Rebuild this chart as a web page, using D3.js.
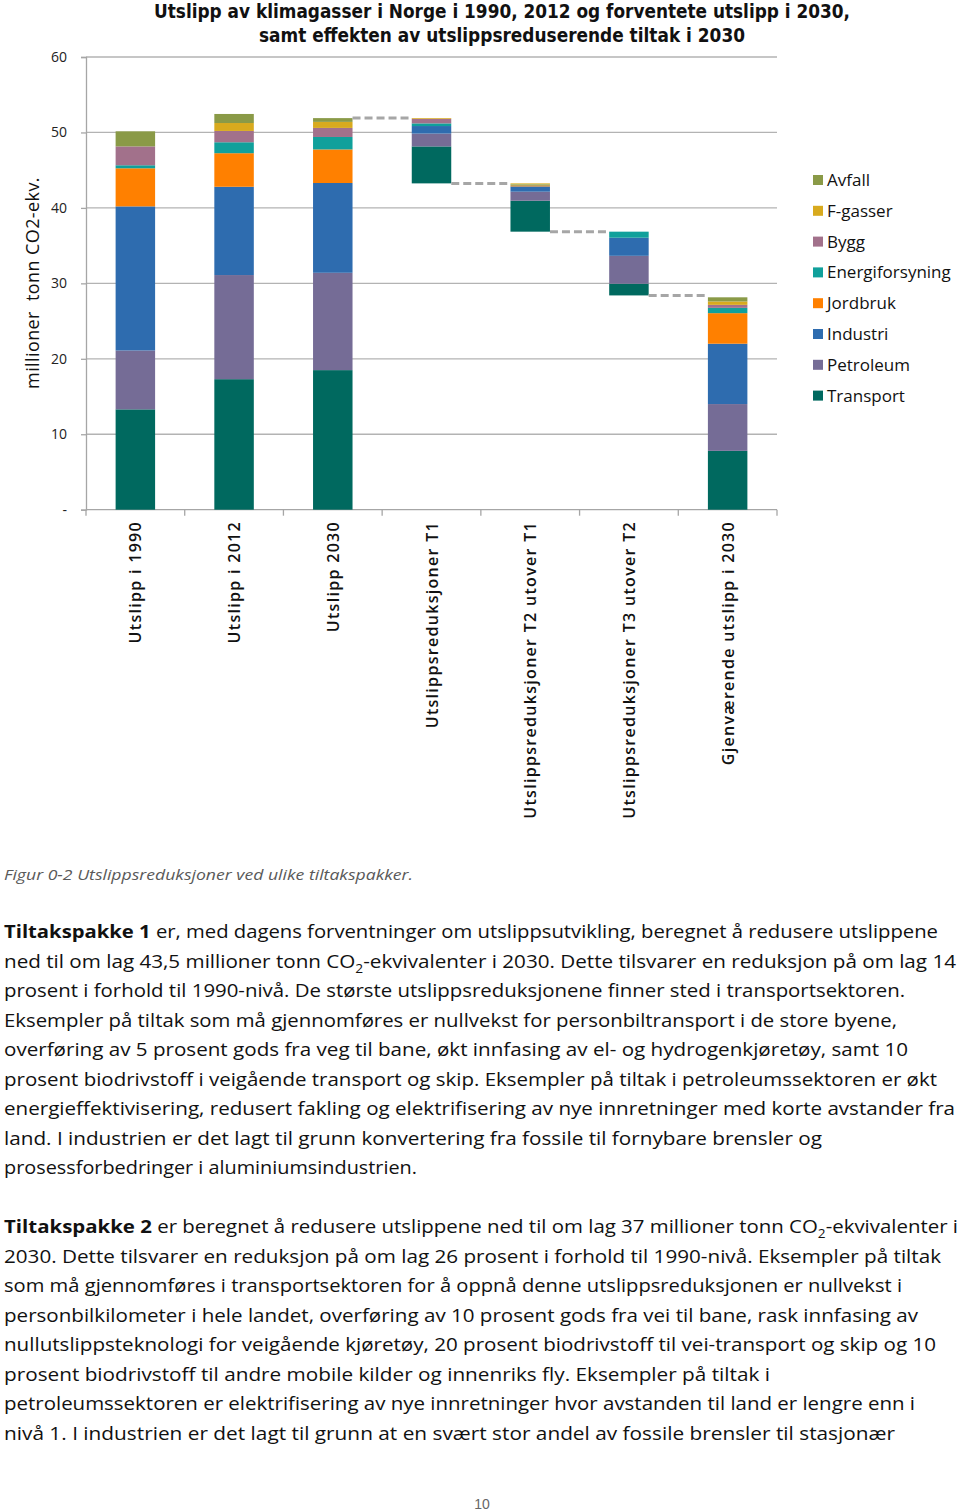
<!DOCTYPE html>
<html>
<head>
<meta charset="utf-8">
<script src="https://cdn.jsdelivr.net/npm/d3@7"></script>
<style>
  html, body { margin: 0; padding: 0; background: #fff; }
  svg { display: block; }
</style>
</head>
<body>
<svg id="chart" width="960" height="1511"></svg>
<script>
// ---------------- DATA ----------------
const categories = [
  "Utslipp i 1990", "Utslipp i 2012", "Utslipp 2030",
  "Utslippsreduksjoner T1", "Utslippsreduksjoner T2 utover T1",
  "Utslippsreduksjoner T3 utover T2", "Gjenværende utslipp i 2030"
];
const isReduction = [false, false, false, true, true, true, false];
const sectors = ["Transport", "Petroleum", "Industri", "Jordbruk", "Energiforsyning", "Bygg", "F-gasser", "Avfall"];
const transport = [13.3, 17.3, 18.5, 4.9, 4.1, 1.55, 7.8];
const petroleum = [7.8, 13.8, 12.9, 1.7, 1.2, 3.7, 6.2];
const industri  = [19.1, 11.7, 11.9, 1.0, 0.7, 2.4, 8.0];
const jordbruk  = [5.05, 4.45, 4.45, 0, 0.15, 0, 4.05];
const energi    = [0.4, 1.45, 1.65, 0.35, 0.1, 0.8, 0.7];
const bygg      = [2.5, 1.5, 1.2, 0.6, 0, 0, 0.4];
const fgasser   = [0, 1.05, 0.8, 0.1, 0.15, 0, 0.45];
const avfall    = [2.0, 1.2, 0.5, 0, 0, 0, 0.55];
const yTicks = [0, 10, 20, 30, 40, 50, 60];
const colors = ["#00695F", "#756C96", "#2E6CAF", "#FF8000", "#10A09B", "#A2718B", "#D8AA1E", "#8A9A47"];

const seriesValues = [transport, petroleum, industri, jordbruk, energi, bygg, fgasser, avfall];

// ---------------- LAYOUT ----------------
const svg = d3.select("#chart");
const x = d3.scaleBand().domain(categories).range([86, 777]).paddingInner(0.6).paddingOuter(0.3);
const y = d3.scaleLinear().domain([0, 60]).range([509.7, 57]);

// waterfall bases
const totals = categories.map((c, i) => d3.sum(seriesValues, s => s[i]));
const bases = [];
let level = 0;
categories.forEach((c, i) => {
  if (isReduction[i]) { bases.push(level - totals[i]); level = level - totals[i]; }
  else { bases.push(0); level = totals[i]; }
});

const rows = categories.map((c, i) => {
  const r = { cat: c };
  sectors.forEach((s, k) => r[s] = seriesValues[k][i]);
  return r;
});
const stack = d3.stack().keys(sectors).offset((series, order) => {
  d3.stackOffsetNone(series, order);
  series.forEach(s => s.forEach((d, j) => { d[0] += bases[j]; d[1] += bases[j]; }));
});
const stacked = stack(rows);

// gridlines
svg.append("g").selectAll("line").data(yTicks.filter(t => t > 0)).join("line")
  .attr("x1", 86).attr("x2", 777)
  .attr("y1", d => y(d)).attr("y2", d => y(d))
  .attr("stroke", "#B3B3B3").attr("stroke-width", 1.3);

// y axis
const yAxis = svg.append("g").attr("transform", "translate(86,0)")
  .call(d3.axisLeft(y).tickValues(yTicks).tickSize(5).tickPadding(14)
        .tickFormat(d => d === 0 ? "-" : d));
yAxis.select(".domain").attr("stroke", "#A6A6A6").attr("stroke-width", 1.3);
yAxis.selectAll(".tick line").attr("stroke", "#A6A6A6").attr("stroke-width", 1.3);
yAxis.selectAll(".tick text").attr("font-family", "'Open Sans', sans-serif")
  .attr("font-size", 14).attr("fill", "#222");

// x axis line + boundary ticks
svg.append("line").attr("x1", 86).attr("x2", 777).attr("y1", y(0)).attr("y2", y(0))
  .attr("stroke", "#A6A6A6").attr("stroke-width", 1.3);
svg.append("g").selectAll("line").data(d3.range(categories.length + 1)).join("line")
  .attr("x1", i => 86 + i * x.step()).attr("x2", i => 86 + i * x.step())
  .attr("y1", y(0)).attr("y2", y(0) + 6)
  .attr("stroke", "#A6A6A6").attr("stroke-width", 1.3);

// bars
svg.append("g").selectAll("g").data(stacked).join("g")
  .attr("fill", (d, k) => colors[k])
  .selectAll("rect").data(d => d).join("rect")
  .attr("x", d => x(d.data.cat))
  .attr("width", x.bandwidth())
  .attr("y", d => y(d[1]))
  .attr("height", d => Math.max(0, y(d[0]) - y(d[1])));

// connectors
const connectors = [];
for (let i = 2; i < categories.length - 1; i++) {
  const lvl = isReduction[i] ? bases[i] : totals[i];
  connectors.push({ from: categories[i], to: categories[i + 1], v: lvl });
}
svg.append("g").selectAll("line").data(connectors).join("line")
  .attr("x1", d => x(d.from) + x.bandwidth())
  .attr("x2", d => x(d.to))
  .attr("y1", d => y(d.v)).attr("y2", d => y(d.v))
  .attr("stroke", "#A6A6A6").attr("stroke-width", 3)
  .attr("stroke-dasharray", "8,4");

// x labels
svg.append("g").selectAll("text").data(categories).join("text")
  .attr("transform", d => `translate(${x(d) + x.bandwidth() / 2 + 6},521) rotate(-90)`)
  .attr("text-anchor", "end")
  .attr("font-family", "'Open Sans', sans-serif")
  .attr("font-weight", 600).attr("font-size", 16)
  .attr("letter-spacing", 1.3)
  .attr("fill", "#111")
  .text(d => d);

// y title
svg.append("text")
  .attr("transform", "translate(39,283) rotate(-90)")
  .attr("text-anchor", "middle")
  .attr("font-family", "'Open Sans', sans-serif")
  .attr("font-size", 18).attr("fill", "#111")
  .attr("letter-spacing", 0.4)
  .attr("xml:space", "preserve")
  .style("white-space", "pre")
  .text("millioner  tonn CO2-ekv.");

// title
const titleLines = [
  { t: "Utslipp av klimagasser i Norge i 1990, 2012 og forventete utslipp i 2030,", y: 18, w: 696 },
  { t: "samt effekten av utslippsreduserende tiltak i 2030", y: 42, w: 486 }
];
svg.append("g").selectAll("text").data(titleLines).join("text")
  .attr("x", 502).attr("y", d => d.y)
  .attr("text-anchor", "middle")
  .attr("font-family", "'DejaVu Sans', sans-serif")
  .attr("font-weight", "bold").attr("font-size", 19)
  .attr("textLength", d => d.w).attr("lengthAdjust", "spacingAndGlyphs")
  .attr("fill", "#111")
  .text(d => d.t);

// legend
const legendOrder = sectors.map((s, k) => ({ s, c: colors[k] })).reverse();
const lg = svg.append("g").selectAll("g").data(legendOrder).join("g")
  .attr("transform", (d, i) => `translate(813,${180 + i * 30.8})`);
lg.append("rect").attr("x", 0).attr("y", -5).attr("width", 10).attr("height", 10).attr("fill", d => d.c);
lg.append("text").attr("x", 14).attr("y", 6)
  .attr("font-family", "'Open Sans', sans-serif").attr("font-size", 17).attr("fill", "#111")
  .text(d => d.s);

// caption
svg.append("text").attr("x", 4).attr("y", 880)
  .attr("font-family", "'Open Sans', sans-serif").attr("font-style", "italic")
  .attr("font-size", 15).attr("fill", "#595959")
  .attr("textLength", 409).attr("lengthAdjust", "spacingAndGlyphs")
  .text("Figur 0-2 Utslippsreduksjoner ved ulike tiltakspakker.");

// body text
const para1 = [
  { parts: [["b", "Tiltakspakke 1"], ["n", " er, med dagens forventninger om utslippsutvikling, beregnet å redusere utslippene"]], w: 934 },
  { parts: [["n", "ned til om lag 43,5 millioner tonn CO"], ["s", "2"], ["n", "-ekvivalenter i 2030. Dette tilsvarer en reduksjon på om lag 14"]], w: 952 },
  { parts: [["n", "prosent i forhold til 1990-nivå. De største utslippsreduksjonene finner sted i transportsektoren."]], w: 901 },
  { parts: [["n", "Eksempler på tiltak som må gjennomføres er nullvekst for personbiltransport i de store byene,"]], w: 893 },
  { parts: [["n", "overføring av 5 prosent gods fra veg til bane, økt innfasing av el- og hydrogenkjøretøy, samt 10"]], w: 904 },
  { parts: [["n", "prosent biodrivstoff i veigående transport og skip. Eksempler på tiltak i petroleumssektoren er økt"]], w: 933 },
  { parts: [["n", "energieffektivisering, redusert fakling og elektrifisering av nye innretninger med korte avstander fra"]], w: 951 },
  { parts: [["n", "land. I industrien er det lagt til grunn konvertering fra fossile til fornybare brensler og"]], w: 818 },
  { parts: [["n", "prosessforbedringer i aluminiumsindustrien."]], w: 413 }
];
const para2 = [
  { parts: [["b", "Tiltakspakke 2"], ["n", " er beregnet å redusere utslippene ned til om lag 37 millioner tonn CO"], ["s", "2"], ["n", "-ekvivalenter i"]], w: 954 },
  { parts: [["n", "2030. Dette tilsvarer en reduksjon på om lag 26 prosent i forhold til 1990-nivå. Eksempler på tiltak"]], w: 937 },
  { parts: [["n", "som må gjennomføres i transportsektoren for å oppnå denne utslippsreduksjonen er nullvekst i"]], w: 898 },
  { parts: [["n", "personbilkilometer i hele landet, overføring av 10 prosent gods fra vei til bane, rask innfasing av"]], w: 914 },
  { parts: [["n", "nullutslippsteknologi for veigående kjøretøy, 20 prosent biodrivstoff til vei-transport og skip og 10"]], w: 932 },
  { parts: [["n", "prosent biodrivstoff til andre mobile kilder og innenriks fly. Eksempler på tiltak i"]], w: 766 },
  { parts: [["n", "petroleumssektoren er elektrifisering av nye innretninger hvor avstanden til land er lengre enn i"]], w: 911 },
  { parts: [["n", "nivå 1. I industrien er det lagt til grunn at en svært stor andel av fossile brensler til stasjonær"]], w: 891 }
];
function drawPara(lines, y0) {
  lines.forEach((ln, i) => {
    const t = svg.append("text").attr("x", 4).attr("y", y0 + i * 29.5)
      .attr("font-family", "'Open Sans', sans-serif").attr("font-size", 18).attr("fill", "#111")
      .attr("textLength", ln.w).attr("lengthAdjust", "spacingAndGlyphs")
      .attr("xml:space", "preserve");
    let sub = false;
    ln.parts.forEach(([k, s]) => {
      const ts = t.append("tspan").text(s);
      if (k === "b") ts.attr("font-weight", "bold");
      if (k === "s") { ts.attr("font-size", 12).attr("dy", 5); sub = true; }
      else if (sub) { ts.attr("dy", -5); sub = false; }
    });
  });
}
drawPara(para1, 938);
drawPara(para2, 1233);

// page number
svg.append("text").attr("x", 482).attr("y", 1509).attr("text-anchor", "middle")
  .attr("font-family", "'Liberation Sans', sans-serif").attr("font-size", 14).attr("fill", "#666")
  .text("10");
</script>
</body>
</html>
